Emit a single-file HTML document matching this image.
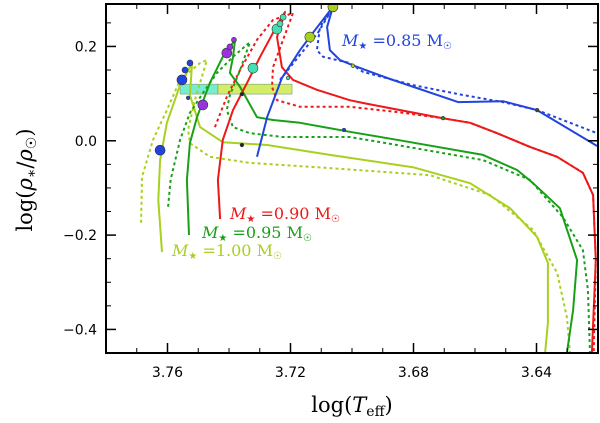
<!DOCTYPE html>
<html><head><meta charset="utf-8">
<style>
html,body{margin:0;padding:0;background:#fff;}
svg{display:block;}
text{font-family:"DejaVu Sans","Liberation Sans",sans-serif;}
.serif{font-family:"DejaVu Serif","Liberation Serif",serif;}
</style></head>
<body>
<svg id="chartsvg" width="600" height="423" viewBox="0 0 600 423" xmlns="http://www.w3.org/2000/svg">
<defs><clipPath id="plotclip"><rect x="106" y="4" width="492" height="349"/></clipPath></defs>
<g id="markLayer" clip-path="url(#plotclip)"></g>
<g id="axisLayer"></g>
<text class="serif" x="352" y="412" text-anchor="middle" font-size="21">log(<tspan font-style="italic">T</tspan><tspan font-size="14" dy="4">eff</tspan><tspan dy="-4">)</tspan></text>
<text class="serif" transform="translate(32,180) rotate(-90)" text-anchor="middle" font-size="21">log(<tspan font-style="italic">ρ</tspan><tspan font-size="14" dy="4">∗</tspan><tspan dy="-4">/</tspan><tspan font-style="italic">ρ</tspan><tspan font-size="14" dy="4">☉</tspan><tspan dy="-4">)</tspan></text>
<text class="serif" x="342" y="46" font-size="16" fill="#2244dd"><tspan font-style="italic">M</tspan><tspan font-size="10" dy="3">★</tspan><tspan dy="-3"> =0.85 M</tspan><tspan font-size="10" dy="3">☉</tspan></text>
<text class="serif" x="230" y="219" font-size="16" fill="#ee1818"><tspan font-style="italic">M</tspan><tspan font-size="10" dy="3">★</tspan><tspan dy="-3"> =0.90 M</tspan><tspan font-size="10" dy="3">☉</tspan></text>
<text class="serif" x="202" y="238" font-size="16" fill="#18a018"><tspan font-style="italic">M</tspan><tspan font-size="10" dy="3">★</tspan><tspan dy="-3"> =0.95 M</tspan><tspan font-size="10" dy="3">☉</tspan></text>
<text class="serif" x="172" y="256" font-size="16" fill="#a8d020"><tspan font-style="italic">M</tspan><tspan font-size="10" dy="3">★</tspan><tspan dy="-3"> =1.00 M</tspan><tspan font-size="10" dy="3">☉</tspan></text>
</svg>
<script>
var xTicks = [3.76, 3.72, 3.68, 3.64];
var yTicks = [0.2, 0.0, -0.2, -0.4];
var xTickLabels = ["3.76","3.72","3.68","3.64"];
var yTickLabels = ["0.2","0.0","\u22120.2","\u22120.4"];

var blueSolidT = [3.7309,3.7276,3.7228,3.7169,3.7127,3.7062,3.7081,3.7072,3.7039,3.6993,3.6876,3.6655,3.6509,3.6398,3.6203];
var blueSolidR = [-0.034,0.050,0.133,0.192,0.229,0.284,0.241,0.192,0.171,0.159,0.131,0.082,0.084,0.065,-0.011];
var blueDotT = [3.7234,3.7169,3.7111,3.7062,3.7104,3.7114,3.7094,3.7007,3.6964,3.6802,3.6639,3.6509,3.6398,3.6203];
var blueDotR = [0.129,0.182,0.229,0.282,0.241,0.192,0.178,0.165,0.146,0.118,0.097,0.082,0.065,0.016];

var redSolidT = [3.7429,3.7436,3.7420,3.7387,3.7341,3.7299,3.7257,3.7234,3.7218,3.7244,3.7228,3.7192,3.7114,3.7007,3.6964,3.6707,3.6616,3.6528,3.6421,3.6333,3.6249,3.6216,3.6207,3.6220];
var redSolidR = [-0.166,-0.083,0.002,0.065,0.123,0.178,0.229,0.256,0.273,0.220,0.156,0.129,0.108,0.086,0.080,0.048,0.038,0.016,-0.013,-0.034,-0.068,-0.115,-0.253,-0.450];
var redDotT = [3.7446,3.7407,3.7364,3.7309,3.7257,3.7192,3.7224,3.7257,3.7260,3.7244,3.7169,3.7007,3.6854,3.6707,3.6616,3.6528,3.6421,3.6333,3.6249,3.6216,3.6207,3.6214];
var redDotR = [0.029,0.093,0.150,0.214,0.256,0.271,0.214,0.156,0.114,0.086,0.072,0.072,0.061,0.048,0.038,0.016,-0.013,-0.034,-0.068,-0.115,-0.253,-0.450];

var greenSolidT = [3.7530,3.7537,3.7527,3.7504,3.7462,3.7420,3.7397,3.7380,3.7387,3.7397,3.7364,3.7309,3.7257,3.7169,3.7007,3.6854,3.6574,3.6463,3.6411,3.6324,3.6268,3.6281,3.6301];
var greenSolidR = [-0.200,-0.083,-0.005,0.050,0.123,0.178,0.199,0.214,0.178,0.144,0.114,0.050,0.044,0.038,0.019,0.002,-0.030,-0.062,-0.090,-0.143,-0.253,-0.359,-0.450];
var greenDotT = [3.7598,3.7590,3.7559,3.7527,3.7485,3.7439,3.7387,3.7332,3.7364,3.7397,3.7407,3.7387,3.7332,3.7224,3.7007,3.6854,3.6574,3.6421,3.6314,3.6249,3.6233,3.6226];
var greenDotR = [-0.140,-0.083,0.002,0.059,0.101,0.144,0.178,0.209,0.150,0.097,0.065,0.029,0.016,0.008,0.008,-0.009,-0.041,-0.083,-0.162,-0.232,-0.316,-0.450];

var ygSolidT = [3.7618,3.7630,3.7624,3.7602,3.7559,3.7520,3.7527,3.7494,3.7420,3.7276,3.7072,3.6802,3.6616,3.6486,3.6398,3.6363,3.6363,3.6372];
var ygSolidR = [-0.236,-0.126,-0.041,0.038,0.118,0.165,0.097,0.029,-0.003,-0.009,-0.030,-0.056,-0.090,-0.143,-0.204,-0.259,-0.386,-0.450];
var ygDotT = [3.7686,3.7683,3.7647,3.7602,3.7559,3.7494,3.7472,3.7511,3.7533,3.7527,3.7462,3.7332,3.7072,3.6746,3.6551,3.6411,3.6333,3.6301,3.6291];
var ygDotR = [-0.174,-0.077,0.002,0.065,0.129,0.165,0.171,0.086,0.023,-0.005,-0.034,-0.047,-0.058,-0.073,-0.115,-0.189,-0.280,-0.374,-0.450];

var markerT = [3.7624,3.7553,3.7543,3.7527,3.7485,3.7407,3.7397,3.7384,3.7322,3.7244,3.7234,3.7224,3.7137,3.7062,3.7533,3.7208,3.6997,3.7358,3.7358,3.7026,3.6704,3.6398];
var markerR = [-0.020,0.129,0.150,0.165,0.076,0.186,0.199,0.214,0.154,0.237,0.248,0.262,0.220,0.284,0.091,0.133,0.159,0.099,-0.009,0.023,0.048,0.065];
var markerSize = [5,5,3,3,5,5,3,2.5,5,5,3,3,5,5,1.8,1.8,1.8,1.8,1.8,1.8,1.8,1.8];
var markerColor = ["#2244dd","#2244dd","#2244dd","#2244dd","#9933dd","#9933dd","#9933dd","#9933dd","#44e0b0","#44e0b0","#44e0b0","#44e0b0","#a8d020","#a8d020","#2244dd","#44e0b0","#a8d020","#223","#223","#2244dd","#1a9a1a","#445"];

var boxT0 = [3.7559, 3.7436];
var boxT1 = [3.7436, 3.7195];
var boxR0 = [0.099, 0.099];
var boxR1 = [0.120, 0.120];
var boxColor = ["#55e8c0", "#c8e840"];

function drawChart() {
  var X0 = 106, X1 = 598, Y0 = 4, Y1 = 353;
  var TMAX = 3.78, TMIN = 3.62, RMIN = -0.45, RMAX = 0.29;
  function xs(t){ return X0 + (TMAX - t) / (TMAX - TMIN) * (X1 - X0); }
  function ys(r){ return Y1 - (r - RMIN) / (RMAX - RMIN) * (Y1 - Y0); }
  var NS = "http://www.w3.org/2000/svg";
  var plot = document.getElementById('markLayer');
  var ax = document.getElementById('axisLayer');
  while (plot.firstChild) plot.removeChild(plot.firstChild);
  while (ax.firstChild) ax.removeChild(ax.firstChild);
  function mk(tag, attrs, parent){
    var e = document.createElementNS(NS, tag);
    for (var k in attrs) e.setAttribute(k, attrs[k]);
    parent.appendChild(e);
    return e;
  }
  var i, k;
  for (i = 0; i < boxT0.length; i++) {
    var bx = mk('rect', {x:xs(boxT0[i]), y:ys(boxR1[i]), width:xs(boxT1[i])-xs(boxT0[i]), height:ys(boxR0[i])-ys(boxR1[i]), fill:boxColor[i], 'fill-opacity':0.8, stroke:'#7a9a7a', 'stroke-width':0.6}, plot);
    
    
  }
  function track(T, R, color, dashed, nm){
    var d = '';
    for (var j = 0; j < T.length; j++) d += (j ? 'L' : 'M') + xs(T[j]).toFixed(1) + ' ' + ys(R[j]).toFixed(1) + ' ';
    var p = mk('path', {d:d, fill:'none', stroke:color, 'stroke-width':2, 'stroke-linejoin':'round'}, plot);
    if (dashed) p.setAttribute('stroke-dasharray', '3,3');
    
    
  }
  track(ygDotT, ygDotR, '#a8d020', true, 'track-1.00-dotted');
  track(ygSolidT, ygSolidR, '#a8d020', false, 'track-1.00-solid');
  track(greenDotT, greenDotR, '#18a018', true, 'track-0.95-dotted');
  track(greenSolidT, greenSolidR, '#18a018', false, 'track-0.95-solid');
  track(redDotT, redDotR, '#ee1818', true, 'track-0.90-dotted');
  track(redSolidT, redSolidR, '#ee1818', false, 'track-0.90-solid');
  track(blueDotT, blueDotR, '#2244dd', true, 'track-0.85-dotted');
  track(blueSolidT, blueSolidR, '#2244dd', false, 'track-0.85-solid');
  for (i = 0; i < markerT.length; i++) {
    var c = mk('circle', {cx:xs(markerT[i]), cy:ys(markerR[i]), r:markerSize[i], fill:markerColor[i], stroke:'#333', 'stroke-width':0.6}, plot);
    
    
  }
  var fr = mk('rect', {x:X0, y:Y0, width:X1-X0, height:Y1-Y0, fill:'none', stroke:'#000', 'stroke-width':2}, ax);
  
  
  function isMajor(arr, v){ for (var q = 0; q < arr.length; q++) if (Math.abs(arr[q] - v) < 1e-6) return true; return false; }
  for (k = 0; k <= 16; k++) {
    var t = 3.62 + k * 0.01, x = xs(t), mj = isMajor(xTicks, t), L = mj ? 10 : 5;
    mk('line', {x1:x, y1:Y1, x2:x, y2:Y1-L, stroke:'#000', 'stroke-width':mj?1.5:1}, ax);
    mk('line', {x1:x, y1:Y0, x2:x, y2:Y0+L, stroke:'#000', 'stroke-width':mj?1.5:1}, ax);
  }
  for (k = 0; k <= 14; k++) {
    var r = -0.45 + k * 0.05, y = ys(r), mj2 = isMajor(yTicks, r), L2 = mj2 ? 10 : 5;
    mk('line', {x1:X0, y1:y, x2:X0+L2, y2:y, stroke:'#000', 'stroke-width':mj2?1.5:1}, ax);
    mk('line', {x1:X1, y1:y, x2:X1-L2, y2:y, stroke:'#000', 'stroke-width':mj2?1.5:1}, ax);
  }
  for (i = 0; i < xTicks.length; i++) {
    var tx = mk('text', {x:xs(xTicks[i]), y:377, 'text-anchor':'middle', 'font-size':14, fill:'#000'}, ax);
    tx.textContent = xTickLabels[i];
    
    
  }
  for (i = 0; i < yTicks.length; i++) {
    var ty = mk('text', {x:97, y:ys(yTicks[i])+5, 'text-anchor':'end', 'font-size':14, fill:'#000'}, ax);
    ty.textContent = yTickLabels[i];
    
    
  }
}
drawChart();
</script>
</body></html>
